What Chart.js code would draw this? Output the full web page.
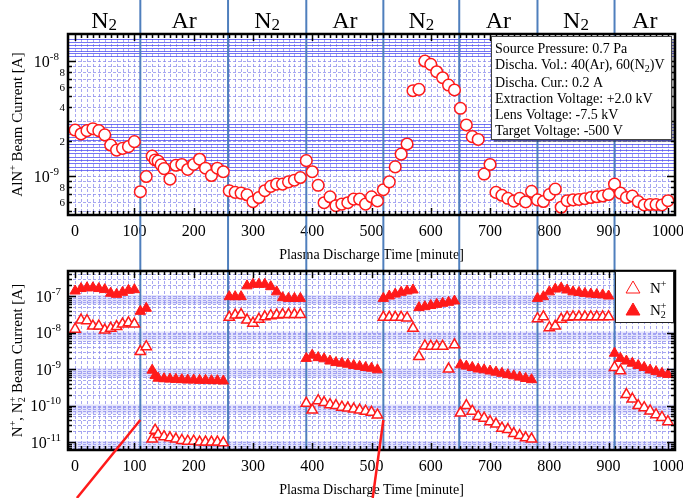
<!DOCTYPE html>
<html>
<head>
<meta charset="utf-8">
<script src="https://cdn.jsdelivr.net/npm/chart.js@4.4.0/dist/chart.umd.min.js"></script>
<style>
  body { margin: 0; background: #fff; }
  #wrap { position: relative; width: 683px; height: 498px; overflow: hidden; }
  #topChart { position: absolute; left: 0; top: 0; }
  #botChart { position: absolute; left: 0; top: 262px; }
</style>
</head>
<body>
<div id="wrap">
  <canvas id="topChart" width="683" height="262" style="width:683px;height:262px"></canvas>
  <canvas id="botChart" width="683" height="236" style="width:683px;height:236px"></canvas>
</div>
<script>
// AlN+ beam current (top panel)
const alnTime = [0, 10, 20, 30, 40, 50, 60, 70, 80, 90, 100, 110, 120, 130, 135, 140, 145, 150, 160, 170,
  180, 190, 200, 210, 220, 230, 240, 250, 260, 270, 280, 290, 300, 310, 320, 330, 340, 350, 360, 370,
  380, 390, 400, 410, 420, 430, 440, 450, 460, 470, 480, 490, 500, 510, 520, 530, 540, 550, 560, 570,
  580, 590, 600, 610, 620, 630, 640, 650, 660, 670, 680, 690, 700, 710, 720, 730, 740, 750, 760, 770,
  780, 790, 800, 810, 820, 830, 840, 850, 860, 870, 880, 890, 900, 910, 920, 930, 940, 950, 960, 970,
  980, 990, 1000];
const alnCurrent = [2.51e-9, 2.32e-9, 2.48e-9, 2.58e-9, 2.48e-9, 2.28e-9, 1.86e-9, 1.68e-9, 1.74e-9, 1.80e-9,
  1.99e-9, 7.3e-10, 9.9e-10, 1.49e-9, 1.38e-9, 1.35e-9, 1.25e-9, 1.16e-9, 9.4e-10, 1.24e-9,
  1.26e-9, 1.14e-9, 1.26e-9, 1.40e-9, 1.17e-9, 1.01e-9, 1.17e-9, 1.09e-9, 7.45e-10, 7.2e-10,
  7.1e-10, 6.87e-10, 5.98e-10, 6.5e-10, 7.45e-10, 8.13e-10, 8.5e-10, 8.5e-10, 8.9e-10, 9.2e-10,
  9.7e-10, 1.36e-9, 1.09e-9, 8.3e-10, 5.86e-10, 6.6e-10, 5.52e-10, 5.7e-10, 5.86e-10, 6.3e-10,
  6.3e-10, 5.7e-10, 6.6e-10, 6.07e-10, 7.6e-10, 8.9e-10, 1.2e-9, 1.55e-9, 1.9e-9, 5.52e-9,
  5.67e-9, 1.0e-8, 9.35e-9, 8.07e-9, 7.16e-9, 6.18e-9, 5.6e-9, 3.88e-9, 2.78e-9, 2.2e-9,
  2.08e-9, 1.04e-9, 1.26e-9, 7.2e-10, 6.8e-10, 6.4e-10, 6.05e-10, 6.4e-10, 5.95e-10, 7.36e-10,
  6.2e-10, 6.0e-10, 6.9e-10, 7.7e-10, 5.35e-10, 6.1e-10, 6.2e-10, 6.25e-10, 6.35e-10, 6.5e-10,
  6.6e-10, 6.7e-10, 6.9e-10, 8.5e-10, 7.1e-10, 6.5e-10, 6.7e-10, 6.0e-10, 5.6e-10, 5.65e-10,
  5.65e-10, 5.6e-10, 6.1e-10];

// N+ beam current (bottom panel, open triangles)
const nTime = [0, 10, 20, 30, 40, 50, 60, 70, 80, 90, 100, 110, 120,
  130, 135, 140, 150, 160, 170, 180, 190, 200, 210, 220, 230, 240, 250,
  260, 270, 280, 290, 300, 310, 320, 330, 340, 350, 360, 370, 380,
  390, 400, 410, 420, 430, 440, 450, 460, 470, 480, 490, 500, 510,
  520, 530, 540, 550, 560, 570, 580, 590, 600, 610, 620, 630, 640,
  650, 660, 670, 680, 690, 700, 710, 720, 730, 740, 750, 760, 770,
  780, 790, 800, 810, 820, 830, 840, 850, 860, 870, 880, 890, 900,
  910, 920, 930, 940, 950, 960, 970, 980, 990, 1000];
const nCurrent = [1.23e-8, 2.2e-8, 2.1e-8, 1.5e-8, 1.5e-8, 1.17e-8, 1.3e-8, 1.45e-8, 1.7e-8, 1.85e-8, 1.7e-8, 3.0e-9, 4.1e-9,
  1.2e-11, 2.1e-11, 1.6e-11, 1.4e-11, 1.3e-11, 1.2e-11, 1.1e-11, 1.05e-11, 1.05e-11, 1.0e-11, 1.0e-11, 1.0e-11, 1.0e-11, 9.5e-12,
  2.6e-8, 3.0e-8, 3.1e-8, 2.2e-8, 1.8e-8, 2.3e-8, 2.7e-8, 2.9e-8, 3.0e-8, 3.1e-8, 3.1e-8, 3.1e-8, 3.1e-8,
  1.15e-10, 7.5e-11, 1.35e-10, 1.2e-10, 1.05e-10, 1.0e-10, 9.0e-11, 8.5e-11, 8.0e-11, 7.5e-11, 7.0e-11, 6.5e-11, 5.5e-11,
  2.6e-8, 2.6e-8, 2.6e-8, 2.6e-8, 2.5e-8, 1.3e-8, 2.2e-9, 4.3e-9, 4.2e-9, 4.2e-9, 4.2e-9, 1.0e-9, 4.6e-9,
  6.2e-11, 1.0e-10, 7.0e-11, 5.0e-11, 4.5e-11, 3.6e-11, 3.1e-11, 2.4e-11, 2.2e-11, 1.7e-11, 1.5e-11, 1.3e-11, 1.2e-11,
  2.4e-8, 2.7e-8, 1.35e-8, 1.5e-8, 2.3e-8, 2.6e-8, 2.7e-8, 2.7e-8, 2.7e-8, 2.7e-8, 2.7e-8, 2.7e-8, 2.7e-8,
  1.1e-9, 8.9e-10, 2.0e-10, 1.5e-10, 1.0e-10, 8.7e-11, 7.1e-11, 5.6e-11, 4.7e-11, 3.6e-11];

// N2+ beam current (bottom panel, filled triangles)
const n2Time = nTime;
const n2Current = [1.37e-7, 1.6e-7, 1.68e-7, 1.68e-7, 1.6e-7, 1.5e-7, 1.19e-7, 1.11e-7, 1.26e-7, 1.43e-7, 1.49e-7, 3.8e-8, 4.6e-8,
  9.3e-10, 6.6e-10, 5.6e-10, 5.4e-10, 5.3e-10, 5.2e-10, 5.1e-10, 5.0e-10, 5.0e-10, 4.9e-10, 4.9e-10, 4.8e-10, 4.8e-10, 4.7e-10,
  9.6e-8, 9.6e-8, 9.6e-8, 1.9e-7, 2.1e-7, 2.1e-7, 2.1e-7, 1.8e-7, 1.3e-7, 9.0e-8, 8.6e-8, 8.6e-8, 8.6e-8,
  1.95e-9, 2.4e-9, 2.05e-9, 1.9e-9, 1.65e-9, 1.5e-9, 1.44e-9, 1.35e-9, 1.25e-9, 1.18e-9, 1.1e-9, 1.05e-9, 9.5e-10,
  8.6e-8, 1.0e-7, 1.13e-7, 1.26e-7, 1.37e-7, 1.46e-7, 4.8e-8, 5.1e-8, 5.5e-8, 5.9e-8, 6.3e-8, 6.7e-8, 7.3e-8,
  1.3e-9, 1.2e-9, 1.1e-9, 1.0e-9, 9.5e-10, 8.8e-10, 8.2e-10, 7.6e-10, 7.0e-10, 6.5e-10, 6.0e-10, 5.5e-10, 5.1e-10,
  8.6e-8, 9.6e-8, 1.3e-7, 1.55e-7, 1.66e-7, 1.46e-7, 1.3e-7, 1.25e-7, 1.18e-7, 1.13e-7, 1.1e-7, 1.07e-7, 1.0e-7,
  2.7e-9, 1.95e-9, 1.65e-9, 1.44e-9, 1.25e-9, 1.1e-9, 9.4e-10, 8.5e-10, 7.6e-10, 7.1e-10];

// gas switching times and the gas in each interval
const switchTimes = [110, 258, 390, 520, 648, 780, 910];
const gasNames = ['N2', 'Ar', 'N2', 'Ar', 'N2', 'Ar', 'N2', 'Ar'];

const xTickLabels = [0, 100, 200, 300, 400, 500, 600, 700, 800, 900, 1000];
const topYLabels = [1e-8, 8e-9, 6e-9, 4e-9, 2e-9, 1e-9, 8e-10, 6e-10];
const botYLabels = [1e-7, 1e-8, 1e-9, 1e-10, 1e-11];

// arrows pointing at the gas switch (time, current at tip; time at bottom edge)
const arrowTips = [[110, 4e-11, 3], [520, 4e-11, 502]];

const serif = '"Liberation Serif", "Times New Roman", serif';
const blueLine = '#4f7fbd';
const red = '#ff1a1a';

function T(text, size) { return {text, size}; }
function SUP(text, size, base) { return {text, size, dy: -base * 0.42}; }
function SUB(text, size, base, stack) { return {text, size, dy: base * 0.22, stack}; }

function rich(ctx, parts, x, y, align) {
  let w = 0;
  parts.forEach(p => {
    ctx.font = p.size + 'px ' + serif;
    p.w = ctx.measureText(p.text).width;
    if (!p.stack) w += p.w;
  });
  let cx = align === 'center' ? x - w / 2 : (align === 'right' ? x - w : x);
  ctx.textAlign = 'left';
  ctx.textBaseline = 'alphabetic';
  parts.forEach(p => {
    ctx.font = p.size + 'px ' + serif;
    ctx.fillText(p.text, cx, y + (p.dy || 0));
    if (!p.stack) cx += p.w;
  });
}

function decadeLabel(exp) {
  return [T('10', 16), SUP(String(exp), 11, 16)];
}

function drawGrid(chart) {
  const {ctx, chartArea: a, scales: {x, y}} = chart;
  ctx.save();
  ctx.fillStyle = '#fff';
  ctx.fillRect(a.left, a.top, a.right - a.left, a.bottom - a.top);
  ctx.strokeStyle = 'rgba(130,130,235,0.7)';
  ctx.lineWidth = 1;
  ctx.setLineDash([3, 2]);
  ctx.beginPath();
  for (let t = 0; t <= 1000; t += 10) {
    const px = Math.round(x.getPixelForValue(t)) + 0.5;
    ctx.moveTo(px, a.top); ctx.lineTo(px, a.bottom);
  }
  const lo = Math.floor(Math.log10(y.min)), hi = Math.ceil(Math.log10(y.max));
  for (let e = lo; e <= hi; e++) {
    for (let m = 1; m <= 9; m++) {
      const v = m * Math.pow(10, e);
      if (v < y.min || v > y.max) continue;
      const py = Math.round(y.getPixelForValue(v)) + 0.5;
      ctx.moveTo(a.left, py); ctx.lineTo(a.right, py);
    }
  }
  ctx.stroke();
  ctx.restore();
}

function drawFrame(chart) {
  const {ctx, chartArea: a, scales: {x, y}} = chart;
  ctx.save();
  ctx.strokeStyle = '#000';
  ctx.lineWidth = 1.5;
  ctx.beginPath();
  for (let t = 0; t <= 1000; t += 10) {
    const px = Math.round(x.getPixelForValue(t)) + 0.5;
    const len = t % 100 === 0 ? 7 : 4;
    ctx.moveTo(px, a.bottom); ctx.lineTo(px, a.bottom - len);
    ctx.moveTo(px, a.top); ctx.lineTo(px, a.top + len);
  }
  const lo = Math.floor(Math.log10(y.min)), hi = Math.ceil(Math.log10(y.max));
  for (let e = lo; e <= hi; e++) {
    for (let m = 1; m <= 9; m++) {
      const v = m * Math.pow(10, e);
      if (v < y.min || v > y.max) continue;
      const py = Math.round(y.getPixelForValue(v)) + 0.5;
      const len = m === 1 ? 8 : 4;
      ctx.moveTo(a.left, py); ctx.lineTo(a.left + len, py);
      ctx.moveTo(a.right, py); ctx.lineTo(a.right - len, py);
    }
  }
  ctx.stroke();
  ctx.lineWidth = 2.5;
  ctx.strokeRect(a.left, a.top, a.right - a.left, a.bottom - a.top);
  ctx.restore();
}

function drawXLabels(chart) {
  const {ctx, chartArea: a, scales: {x}} = chart;
  ctx.save();
  ctx.fillStyle = '#000';
  ctx.font = '16px ' + serif;
  ctx.textAlign = 'center';
  ctx.textBaseline = 'alphabetic';
  xTickLabels.forEach(v => ctx.fillText(String(v), x.getPixelForValue(v), a.bottom + 21));
  ctx.font = '14px ' + serif;
  ctx.fillText('Plasma Discharge Time [minute]', (a.left + a.right) / 2, a.bottom + 44);
  ctx.restore();
}

function drawSwitchLines(chart, bottom) {
  const {ctx, scales: {x}} = chart;
  ctx.save();
  ctx.strokeStyle = blueLine;
  ctx.lineWidth = 2;
  switchTimes.forEach(t => {
    const px = x.getPixelForValue(t);
    ctx.beginPath(); ctx.moveTo(px, 0); ctx.lineTo(px, bottom); ctx.stroke();
  });
  ctx.restore();
}

function gasParts(name) {
  return name === 'N2' ? [T('N', 24), SUB('2', 17, 10)] : [T('Ar', 24)];
}

const topPlugin = {
  id: 'topPanel',
  beforeDatasetsDraw(chart) {
    const {ctx, chartArea: a, scales: {x, y}} = chart;
    drawGrid(chart);
    // dense blue rules
    ctx.save();
    ctx.strokeStyle = 'rgba(70,70,240,0.75)';
    ctx.lineWidth = 1;
    ctx.beginPath();
    [[1.1e-8, 1.55e-8, 7], [1.13e-9, 2.85e-9, 15]].forEach(([v0, v1, n]) => {
      const p0 = y.getPixelForValue(v0), p1 = y.getPixelForValue(v1);
      for (let i = 0; i < n; i++) {
        const py = Math.round(p0 + (p1 - p0) * i / (n - 1)) + 0.5;
        ctx.moveTo(a.left, py); ctx.lineTo(a.right, py);
      }
    });
    ctx.stroke();
    ctx.restore();
    drawXLabels(chart);
    // y labels
    ctx.save();
    ctx.fillStyle = '#000';
    topYLabels.forEach(v => {
      const e = Math.round(Math.log10(v));
      const py = y.getPixelForValue(v);
      if (Math.abs(Math.pow(10, e) - v) / v < 1e-6) {
        rich(ctx, decadeLabel(e), 59, py + 5.5, 'right');
      } else {
        rich(ctx, [T(String(Math.round(v / Math.pow(10, Math.floor(Math.log10(v))))), 11)], 65, py + 4, 'right');
      }
    });
    ctx.translate(17, (a.top + a.bottom) / 2);
    ctx.rotate(-Math.PI / 2);
    rich(ctx, [T('AlN', 15), SUP('+', 10, 15), T(' Beam Current [A]', 15)], 0, 5, 'center');
    ctx.restore();
    drawSwitchLines(chart, chart.height);
  },
  afterDatasetsDraw(chart) {
    const {ctx, chartArea: a, scales: {x}} = chart;
    drawFrame(chart);
    // gas headers
    ctx.save();
    ctx.fillStyle = '#000';
    const edges = [x.min, ...switchTimes, x.max];
    gasNames.forEach((g, i) => {
      const cx = (x.getPixelForValue(edges[i]) + x.getPixelForValue(edges[i + 1])) / 2;
      rich(ctx, gasParts(g), cx, 28, 'center');
    });
    // condition box
    ctx.fillStyle = 'rgba(0,0,0,0.35)';
    ctx.fillRect(494, 39, 180, 103);
    ctx.fillStyle = '#fff';
    ctx.fillRect(491.5, 36.5, 180, 103);
    ctx.strokeStyle = '#444';
    ctx.lineWidth = 1;
    ctx.strokeRect(491.5, 36.5, 180, 103);
    ctx.fillStyle = '#000';
    const lines = [
      [T('Source Pressure: 0.7 Pa', 14)],
      [T('Discha. Vol.: 40(Ar), 60(N', 14), SUB('2', 10, 14), T(')V', 14)],
      [T('Discha. Cur.: 0.2 A', 14)],
      [T('Extraction Voltage: +2.0 kV', 14)],
      [T('Lens Voltage: -7.5 kV', 14)],
      [T('Target Voltage: -500 V', 14)]
    ];
    const base = [53, 69, 87, 103, 119, 135];
    lines.forEach((l, i) => rich(ctx, l, 495, base[i], 'left'));
    ctx.restore();
  }
};

const botPlugin = {
  id: 'botPanel',
  beforeDatasetsDraw(chart) {
    const {ctx, chartArea: a, scales: {x, y}} = chart;
    drawGrid(chart);
    // pale bands just below each decade
    ctx.save();
    ctx.fillStyle = 'rgba(160,160,245,0.3)';
    botYLabels.forEach(v => {
      const p0 = y.getPixelForValue(v), p1 = y.getPixelForValue(v * 0.6);
      ctx.fillRect(a.left, p0 - 1, a.right - a.left, p1 - p0 + 1);
    });
    ctx.restore();
    drawXLabels(chart);
    ctx.save();
    ctx.fillStyle = '#000';
    botYLabels.forEach(v => {
      const e = Math.round(Math.log10(v));
      rich(ctx, decadeLabel(e), 61, y.getPixelForValue(v) + 5.5, 'right');
    });
    ctx.translate(17, (a.top + a.bottom) / 2);
    ctx.rotate(-Math.PI / 2);
    rich(ctx, [T('N', 15), SUP('+', 10, 15), T(', N', 15), SUB('2', 10, 15, true), SUP('+', 10, 15),
      T(' Beam Current [A]', 15)], 0, 5, 'center');
    ctx.restore();
    drawSwitchLines(chart, a.bottom);
  },
  afterDatasetsDraw(chart) {
    const {ctx, chartArea: a, scales: {x, y}} = chart;
    drawFrame(chart);
    ctx.save();
    // legend
    ctx.fillStyle = '#fff';
    ctx.fillRect(615.5, 9.5, 58, 51);
    ctx.strokeStyle = '#222';
    ctx.lineWidth = 1;
    ctx.strokeRect(615.5, 9.5, 58, 51);
    const ds = chart.data.datasets;
    [[ds[0], 25, [T('N', 15), SUP('+', 10, 15)]],
     [ds[1], 47, [T('N', 15), SUB('2', 10, 15, true), SUP('+', 10, 15)]]].forEach(([d, py, parts]) => {
      ctx.fillStyle = d.backgroundColor;
      ctx.strokeStyle = d.borderColor;
      Chart.helpers.drawPoint(ctx, {pointStyle: 'triangle', radius: 8, rotation: 0, borderWidth: 1.5}, 633, py + 2);
      ctx.fillStyle = '#000';
      rich(ctx, parts, 650, py + 6, 'left');
    });
    // arrows
    ctx.strokeStyle = red;
    ctx.lineWidth = 2.5;
    arrowTips.forEach(([t, v, tb]) => {
      ctx.beginPath();
      ctx.moveTo(x.getPixelForValue(t), y.getPixelForValue(v));
      ctx.lineTo(x.getPixelForValue(tb), chart.height);
      ctx.stroke();
    });
    ctx.restore();
  }
};

const baseScales = (ymin, ymax) => ({
  x: {type: 'linear', display: false, min: -12, max: 1012},
  y: {type: 'logarithmic', display: false, min: ymin, max: ymax}
});

new Chart(document.getElementById('topChart'), {
  type: 'scatter',
  data: {
    datasets: [{
      label: 'AlN+',
      data: alnTime.map((t, i) => ({x: t, y: alnCurrent[i]})),
      pointStyle: 'circle',
      pointRadius: 5.8,
      pointBorderWidth: 1.5,
      borderColor: red,
      backgroundColor: '#fff'
    }]
  },
  options: {
    responsive: false,
    animation: false,
    layout: {padding: {left: 68, right: 8, top: 34, bottom: 47}},
    scales: baseScales(Math.pow(10, -9.339), Math.pow(10, -7.765)),
    plugins: {legend: {display: false}, tooltip: {enabled: false}}
  },
  plugins: [topPlugin]
});

new Chart(document.getElementById('botChart'), {
  type: 'scatter',
  data: {
    datasets: [{
      label: 'N+',
      data: nTime.map((t, i) => ({x: t, y: nCurrent[i]})),
      pointStyle: 'triangle',
      pointRadius: 6,
      pointBorderWidth: 1.5,
      borderColor: red,
      backgroundColor: '#fff'
    }, {
      label: 'N2+',
      data: n2Time.map((t, i) => ({x: t, y: n2Current[i]})),
      pointStyle: 'triangle',
      pointRadius: 6,
      pointBorderWidth: 1,
      borderColor: red,
      backgroundColor: red
    }]
  },
  options: {
    responsive: false,
    animation: false,
    layout: {padding: {left: 68, right: 8, top: 9, bottom: 48}},
    scales: baseScales(Math.pow(10, -11.219), Math.pow(10, -6.315)),
    plugins: {legend: {display: false}, tooltip: {enabled: false}}
  },
  plugins: [botPlugin]
});
</script>
</body>
</html>
